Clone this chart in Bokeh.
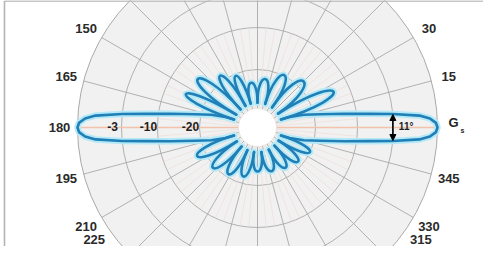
import numpy as np
from bokeh.plotting import figure
from bokeh.models import Arrow, NormalHead
from bokeh.embed import file_html
from bokeh.resources import INLINE
from bokeh.core.properties import value

# ---------------- data ----------------
angle_ticks = [15, 30, 150, 165, 180, 195, 210, 225, 315, 330, 345]
level_ticks = [-3, -10, -20]
beamwidth_deg = 11
beamwidth_level = -3

# main lobe (same shape at 0 deg and 180 deg): offset from axis (deg) and level (dB)
main_lobe_offset = [0, 1.5, 3, 4.2, 5.7, 7, 9, 12, 15.5, 18, 19]
main_lobe_db = [0, -0.1, -0.5, -1.2, -3, -7.7, -12.9, -18.6, -22.6, -26.2, -28.5]

# side lobes, upper half
upper_null_deg = [19, 34, 54, 72, 90, 106, 119, 133, 149, 161]
upper_tip_deg = [25, 45, 63, 81, 98, 113, 126, 141, 155]
upper_tip_db = [-13.8, -18.3, -19.8, -22.3, -23.3, -20.5, -18.6, -15.5, -15.0]
# side lobes, lower half
lower_null_deg = [199, 214, 230, 246, 262, 279, 297, 313, 328, 341]
lower_tip_deg = [205, 222, 238, 254, 270, 288, 305, 320, 335]
lower_tip_db = [-17.9, -19.5, -20.8, -21.8, -23.6, -23.1, -22.3, -21.3, -20.0]
null_db = -28.5

# ---------------- radial scale (dB -> px radius) ----------------
scale_db = [-30, -20, -10, -3, 0]
scale_px = [19, 58, 100, 136, 180]


def rad(db):
    return np.interp(db, scale_db, scale_px)


def pol(deg, r):
    t = np.radians(deg)
    return r * np.cos(t), r * np.sin(t)


p = figure(width=483, height=246, x_range=(-257, 226), y_range=(-119, 127),
           output_backend="svg", toolbar_location=None, min_border=0,
           x_axis_location=None, y_axis_location=None)
p.grid.visible = False
p.outline_line_color = None
p.background_fill_color = "white"
p.border_fill_color = "white"

GRID = "#a9a9a9"
R0 = rad(0)
RIN = rad(-30)

# background disc + rings
p.circle(x=[0], y=[0], radius=R0, fill_color="#f1f1f1", line_color=GRID, line_width=1)
ring_r = [rad(v) for v in level_ticks]
p.circle(x=[0] * len(ring_r), y=[0] * len(ring_r), radius=ring_r,
         fill_color=None, line_color=GRID, line_width=0.9)

# fine inner radial lines
fine = [a for a in range(0, 360, 5) if a % 15]
fx0, fy0 = pol(np.array(fine), RIN)
fx1, fy1 = pol(np.array(fine), rad(-10))
p.segment(fx0, fy0, fx1, fy1, line_color="#eedad4", line_width=0.6)

# radial grid every 15 deg
grid_a = np.arange(0, 360, 15)
gx0, gy0 = pol(grid_a, RIN)
gx1, gy1 = pol(grid_a, R0)
p.segment(gx0, gy0, gx1, gy1, line_color=GRID, line_width=0.9)

# 0-180 axis line
p.segment([-R0], [0], [R0], [0], line_color="#f2c3aa", line_width=1.6)

# inner white disc
p.circle(x=[0], y=[0], radius=RIN, fill_color="white", line_color="#e2e2e2", line_width=0.8)

# ---------------- pattern ----------------
GLOW = "#b5e9f7"
BLUE = "#1f7fb6"

off = np.array(main_lobe_offset)
mdb = np.array(main_lobe_db)
lobe_ang = np.concatenate([-off[::-1], off[1:]])
lobe_db = np.concatenate([mdb[::-1], mdb[1:]])
main_xy = []
for axis_deg in (0, 180):
    mx, my = pol(axis_deg + lobe_ang, rad(lobe_db))
    main_xy.append((mx, my))

bz = dict(x0=[], y0=[], x1=[], y1=[], cx0=[], cy0=[], cx1=[], cy1=[])
r0 = rad(null_db)
for nulls, tips, dbs in ((upper_null_deg, upper_tip_deg, upper_tip_db),
                         (lower_null_deg, lower_tip_deg, lower_tip_db)):
    for i, t in enumerate(tips):
        a, b = nulls[i], nulls[i + 1]
        R = rad(dbs[i])
        h = 0.52 * (b - a)
        k = (R - 0.125 * r0 * (np.cos(np.radians(t - a)) + np.cos(np.radians(b - t)))) / (0.75 * np.cos(np.radians(h)))
        x0, y0 = pol(a, r0)
        x1, y1 = pol(b, r0)
        cx0, cy0 = pol(t - h, k)
        cx1, cy1 = pol(t + h, k)
        for key, v in zip(bz, (x0, y0, x1, y1, cx0, cy0, cx1, cy1)):
            bz[key].append(float(v))

for color, width in ((GLOW, 6.5), (BLUE, 2.6)):
    for mx, my in main_xy:
        p.line(mx, my, line_color=color, line_width=width, line_join="round", line_cap="round")
    p.bezier(line_color=color, line_width=width, line_cap="round", **bz)

# beamwidth arrow
r3 = rad(beamwidth_level)
ax, ay = pol(beamwidth_deg / 2, r3)
p.add_layout(Arrow(start=NormalHead(size=6, fill_color="black", line_color="black"),
                   end=NormalHead(size=6, fill_color="black", line_color="black"),
                   x_start=ax, y_start=-ay, x_end=ax, y_end=ay,
                   line_color="black", line_width=1.6))
p.text(x=[ax + 6], y=[1], text=[f"{beamwidth_deg}°"], text_font=value("Liberation Sans"),
       text_font_style="bold", text_font_size="10px", text_color="#222",
       text_align="left", text_baseline="middle")

# level labels along 180 deg
lx = [-(rad(v) + 9) for v in level_ticks]
p.text(x=lx, y=[1] * len(lx), text=[str(v) for v in level_ticks],
       text_font=value("Liberation Sans"), text_font_style="bold", text_font_size="12px",
       text_color="#222", text_align="center", text_baseline="middle")

# angle labels
LR = 198
YMIN = -112
tx, ty = [], []
for a in angle_ticks:
    x, y = pol(a, LR)
    if y < YMIN:
        y = YMIN
        x = np.sign(x) * np.sqrt(LR ** 2 - y ** 2)
    tx.append(float(x))
    ty.append(float(y))
p.text(x=tx, y=ty, text=[str(a) for a in angle_ticks], text_font=value("Liberation Sans"),
       text_font_style="bold", text_font_size="13px", text_color="#2a2a2a",
       text_align="center", text_baseline="middle")

# G_s label
p.text(x=[R0 + 16], y=[5], text=["G"], text_font=value("Liberation Sans"),
       text_font_style="bold", text_font_size="13px", text_color="#222",
       text_align="center", text_baseline="middle")
p.text(x=[R0 + 25], y=[-3], text=["s"], text_font=value("Liberation Sans"),
       text_font_style="bold", text_font_size="7px", text_color="#222",
       text_align="center", text_baseline="middle")

# frame (top and left edges visible)
p.segment([-253, -253], [126.5, 126.5], [226, -253], [126.5, -119],
          line_color="#b4b4b4", line_width=1.6)

open("out.html", "w").write(file_html(p, INLINE))
